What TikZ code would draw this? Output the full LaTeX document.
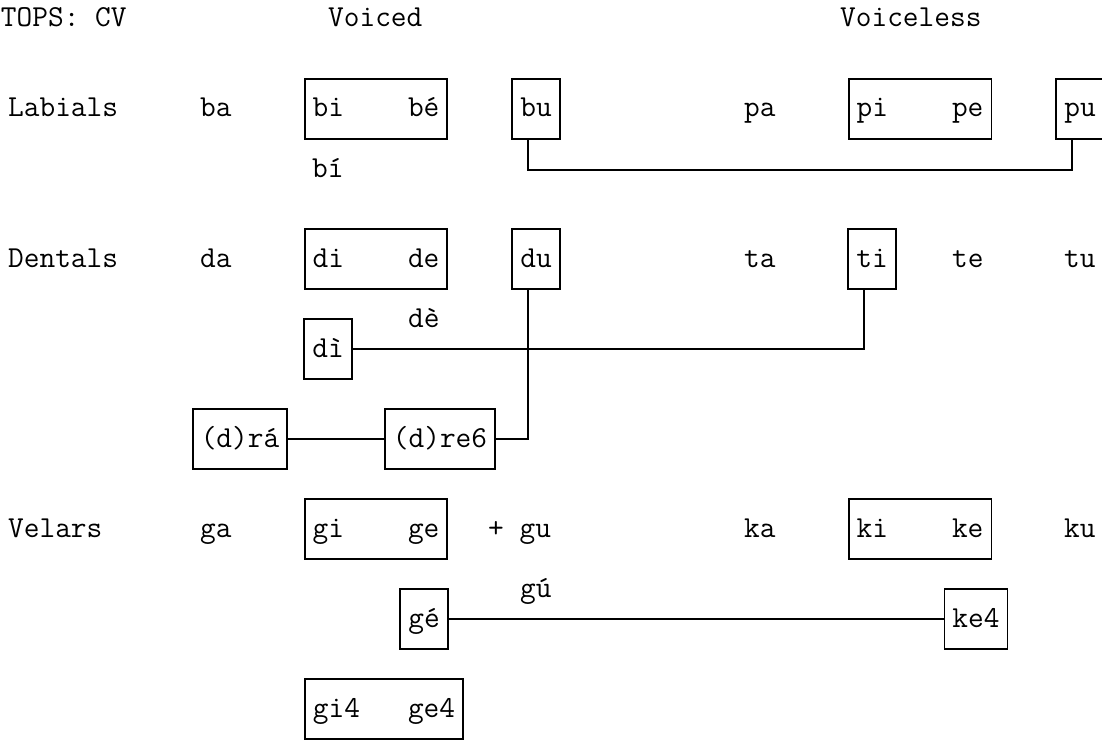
\documentclass[tikz,border=0pt]{standalone}
\usepackage{tikz}
\usetikzlibrary{positioning, calc}

\begin{document}
\begin{tikzpicture}[
  x=16pt, y=-30pt,
  lbl/.style={anchor=west, inner sep=0pt, text height=20pt, text depth=4pt, font=\fontsize{30.476pt}{30pt}\selectfont\ttfamily},
  cvbox/.style={draw, line width=1.8pt, inner xsep=8pt, inner ysep=0pt, minimum height=60pt, text height=20pt, text depth=4pt, font=\fontsize{30.476pt}{30pt}\selectfont\ttfamily},
  link/.style={draw, line width=1.8pt}
]
  \useasboundingbox (0,-0.6333) rectangle (68.875,24.1667);

  % headings
  \node[lbl] (title) at (0.05,0) {TOPS: CV};
  \node[lbl] (voiced) at (20.5,0) {Voiced};
  \node[lbl] (voiceless) at (52.5,0) {Voiceless};

  % labials
  \node[lbl] (labials) at (0.5,3) {Labials};
  \node[lbl] (ba) at (12.5,3) {ba};
  \node[cvbox] (bibe) at (23.5,3) {bi\hspace{64pt}bé};
  \node[cvbox] (bu) at (33.5,3) {bu};
  \node[lbl] (pa) at (46.5,3) {pa};
  \node[cvbox] (pipe) at (57.5,3) {pi\hspace{64pt}pe};
  \node[cvbox] (pu) at (67.5,3) {pu};
  \node[lbl] (bacute) at (19.5,5) {bí};

  % dentals
  \node[lbl] (dentals) at (0.5,8) {Dentals};
  \node[lbl] (da) at (12.5,8) {da};
  \node[cvbox] (dide) at (23.5,8) {di\hspace{64pt}de};
  \node[cvbox] (du) at (33.5,8) {du};
  \node[lbl] (ta) at (46.5,8) {ta};
  \node[cvbox] (ti) at (54.5,8) {ti};
  \node[lbl] (te) at (59.5,8) {te};
  \node[lbl] (tu) at (66.5,8) {tu};
  \node[lbl] (degrave) at (25.5,10) {dè};
  \node[cvbox] (digrave) at (20.5,11) {dì};
  \node[cvbox] (dra) at (15,14) {(d)rá};
  \node[cvbox] (dre) at (27.5,14) {(d)re6};

  % velars
  \node[lbl] (velars) at (0.5,17) {Velars};
  \node[lbl] (ga) at (12.5,17) {ga};
  \node[cvbox] (gige) at (23.5,17) {gi\hspace{64pt}ge};
  \node[lbl] (gu) at (30.5,17) {+ gu};
  \node[lbl] (ka) at (46.5,17) {ka};
  \node[cvbox] (kike) at (57.5,17) {ki\hspace{64pt}ke};
  \node[lbl] (ku) at (66.5,17) {ku};
  \node[lbl] (guacute) at (32.5,19) {gú};
  \node[cvbox] (geacute) at (26.5,20) {gé};
  \node[cvbox] (kefour) at (61,20) {ke4};
  \node[cvbox] (gifour) at (24,23) {gi4\hspace{48pt}ge4};

  % links
  \draw[link] ([xshift=-8pt]bu.south) -- ++(0,1) -| ([xshift=-8pt]pu.south);
  \draw[link] (digrave.east) -| ([xshift=-8pt]ti.south);
  \draw[link] ([xshift=-8pt]du.south) |- (dre.east);
  \draw[link] (dra.east) -- (dre.west);
  \draw[link] (geacute.east) -- (kefour.west);
\end{tikzpicture}
\end{document}
